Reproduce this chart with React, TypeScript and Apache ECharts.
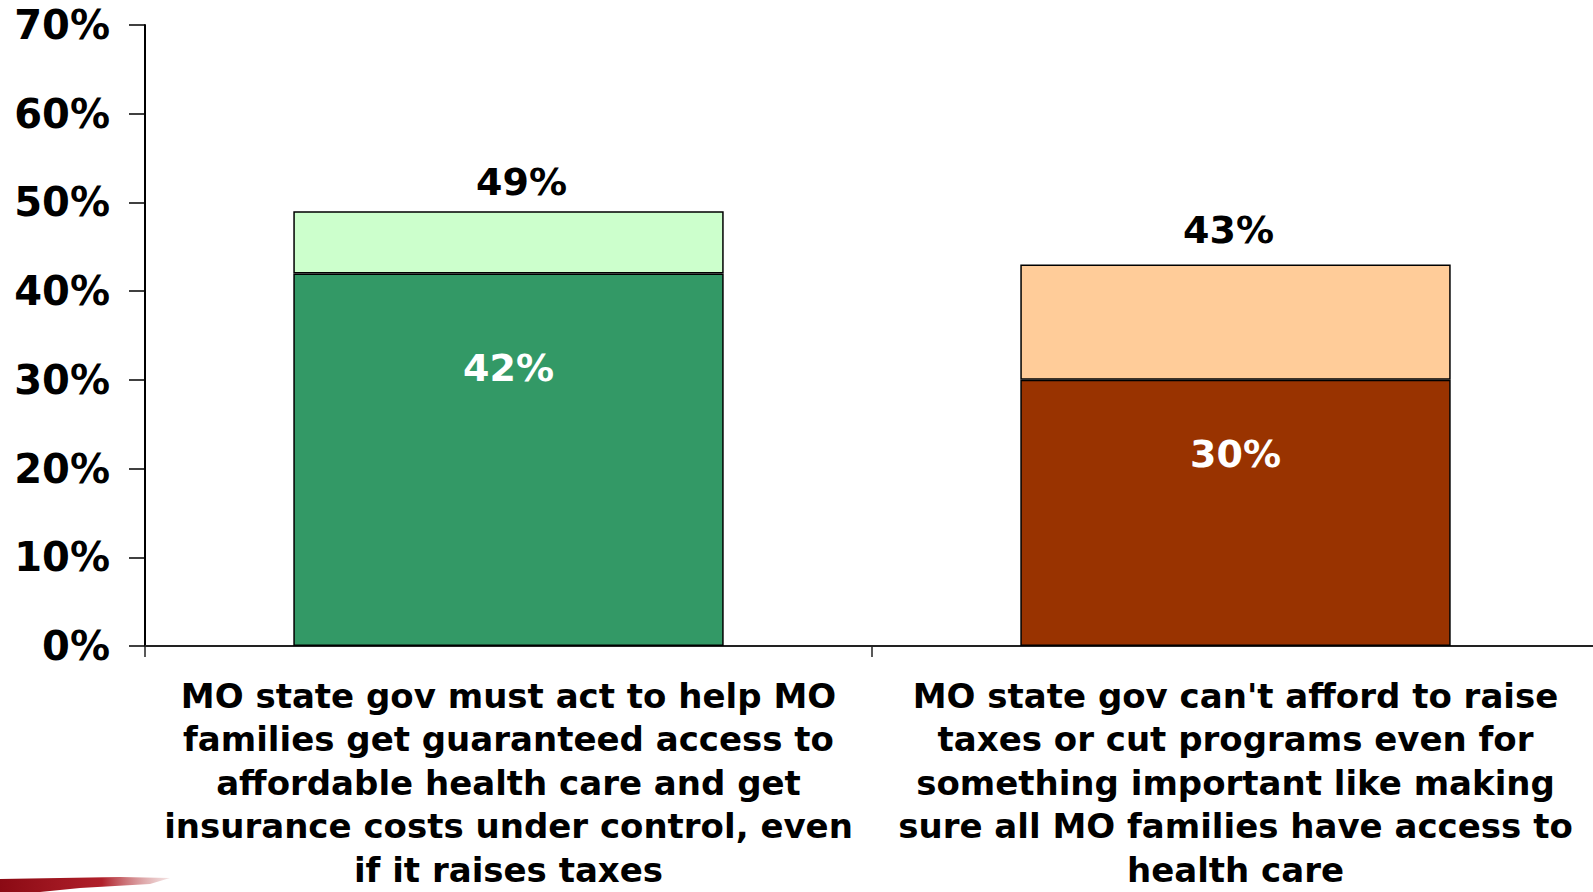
import React, { useEffect, useRef } from "react";
import * as echarts from "echarts";

const categories = [
  "MO state gov must act to help MO\nfamilies get guaranteed access to\naffordable health care and get\ninsurance costs under control, even\nif it raises taxes",
  "MO state gov can't afford to raise\ntaxes or cut programs even for\nsomething important like making\nsure all MO families have access to\nhealth care",
];
const strongValues = [42, 30];
const totalValues = [49, 43];
const strongColors = ["#339966", "#993300"];
const lightColors = ["#CCFFCC", "#FFCC99"];
const yTicks = [0, 10, 20, 30, 40, 50, 60, 70];

const FONT = "DejaVu Sans";
// label placement tweaks (style only)
const totalLabelOffset = [
  [13, 2],
  [-7, -4],
];
const innerLabelDistance = [76, 55];

export default function App() {
  const ref = useRef<HTMLDivElement>(null);
  useEffect(() => {
    if (!ref.current) return;
    const chart = echarts.init(ref.current, null, { renderer: "svg" });
    const lightValues = totalValues.map((t, i) => t - strongValues[i]);
    chart.setOption({
      animation: false,
      backgroundColor: "#ffffff",
      grid: {
        left: 145,
        top: 25,
        width: 1454,
        height: 621,
        containLabel: false,
        outerBoundsMode: "none",
      },
      xAxis: {
        type: "category",
        data: categories,
        axisLine: { show: true, lineStyle: { color: "#222", width: 2 } },
        axisTick: { show: true, length: 11, lineStyle: { color: "#222", width: 1.5 } },
        axisLabel: {
          interval: 0,
          margin: 28,
          color: "#000",
          fontFamily: FONT,
          fontWeight: "bold",
          fontSize: 34,
          lineHeight: 43.5,
          align: "center",
          verticalAlign: "top",
          hideOverlap: false,
        },
      },
      yAxis: {
        type: "value",
        min: yTicks[0],
        max: yTicks[yTicks.length - 1],
        interval: 10,
        splitLine: { show: false },
        axisLine: { show: true, lineStyle: { color: "#000", width: 2 } },
        axisTick: { show: true, length: 16, lineStyle: { color: "#000", width: 1.5 } },
        axisLabel: {
          margin: 35,
          color: "#000",
          fontFamily: FONT,
          fontWeight: "bold",
          fontSize: 40,
          formatter: (v: number) => v + "%",
        },
      },
      series: [
        {
          type: "bar",
          stack: "total",
          barWidth: "59.2%",
          data: strongValues.map((v, i) => ({
            value: v,
            itemStyle: { color: strongColors[i], borderColor: "#000", borderWidth: 1.5 },
            label: { distance: innerLabelDistance[i] },
          })),
          label: {
            show: true,
            position: "insideTop",
            color: "#fff",
            fontFamily: FONT,
            fontWeight: "bold",
            fontSize: 38,
            formatter: (p: any) => p.value + "%",
          },
        },
        {
          type: "bar",
          stack: "total",
          data: lightValues.map((v, i) => ({
            value: v,
            itemStyle: { color: lightColors[i], borderColor: "#000", borderWidth: 1.5 },
            label: { offset: totalLabelOffset[i] },
          })),
          label: {
            show: true,
            position: "top",
            distance: 12,
            color: "#000",
            fontFamily: FONT,
            fontWeight: "bold",
            fontSize: 38,
            formatter: (p: any) => totalValues[p.dataIndex] + "%",
          },
        },
      ],
      graphic: [
        {
          type: "polygon",
          shape: {
            points: [
              [0, 892],
              [0, 879],
              [60, 878],
              [120, 877],
              [170, 878],
              [150, 884],
              [80, 888],
              [40, 892],
            ],
          },
          style: {
            fill: new echarts.graphic.LinearGradient(0, 0, 1, 0, [
              { offset: 0, color: "#8b0a14" },
              { offset: 0.6, color: "#b0202a" },
              { offset: 1, color: "rgba(200,120,120,0.2)" },
            ]),
          },
          silent: true,
        },
      ],
    });
    return () => chart.dispose();
  }, []);
  return (
    <div
      ref={ref}
      style={{ position: "absolute", left: 0, top: 0, width: 1593, height: 892 }}
    />
  );
}
